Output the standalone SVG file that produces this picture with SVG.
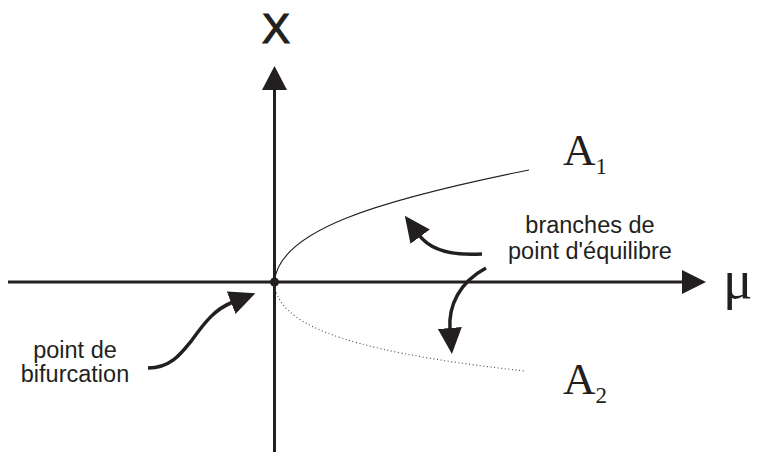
<svg xmlns="http://www.w3.org/2000/svg" width="758" height="453" viewBox="0 0 758 453">
  <style>
    .axis { stroke: #231f20; stroke-width: 3; fill: none; }
    .head { fill: #231f20; }
    .curve { stroke: #231f20; stroke-width: 1.1; fill: none; }
    .dotted { stroke: #555; stroke-width: 1.2; fill: none; stroke-dasharray: 1 2.6; }
    .pointer { stroke: #231f20; stroke-width: 3.5; fill: none; marker-end: url(#arrow); }
    .lbl { font-family: "Liberation Sans", Arial, sans-serif; font-size: 23.5px; fill: #231f20; text-anchor: middle; }
    .serif { font-family: "Liberation Serif", "Times New Roman", serif; fill: #231f20; }
  </style>
  <defs>
    <marker id="arrow" viewBox="0 0 26 24" markerWidth="26" markerHeight="24" refX="2" refY="12" orient="auto" markerUnits="userSpaceOnUse">
      <path d="M0,0 L26,12 L0,24 z" fill="#231f20"/>
    </marker>
  </defs>

  <g id="axes">
    <line class="axis" x1="274.5" y1="452" x2="274.5" y2="88"/>
    <polygon class="head" points="274.5,66 262,90 287,90"/>
    <line class="axis" x1="8" y1="282" x2="684" y2="282"/>
    <polygon class="head" points="706,282 682,270 682,294"/>
    <text id="x-label" x="276" y="43" font-family="Liberation Sans, Arial, sans-serif" font-size="42" text-anchor="middle" fill="#231f20" stroke="#231f20" stroke-width="1.2">X</text>
    <text id="mu-label" class="serif" x="723" y="298" font-size="55">μ</text>
  </g>

  <g id="branch-A1">
    <path class="curve" d="M274.5,282 C278,230 380,200 529,170"/>
    <text class="serif" x="563" y="165" font-size="45">A<tspan font-size="23" dy="9">1</tspan></text>
  </g>

  <g id="branch-A2">
    <path class="dotted" d="M274.5,282 C276,320 330,350 525,371"/>
    <text class="serif" x="563" y="394" font-size="45">A<tspan font-size="23" dy="9">2</tspan></text>
  </g>

  <g id="bifurcation-point">
    <circle cx="274.5" cy="282" r="4.5" fill="#231f20"/>
  </g>

  <g id="label-bifurcation">
    <text class="lbl" x="75" y="358">point de</text>
    <text class="lbl" x="75" y="382">bifurcation</text>
  </g>

  <g id="label-branches">
    <text class="lbl" x="590" y="233">branches de</text>
    <text class="lbl" x="590" y="259">point d'équilibre</text>
  </g>

  <g id="connectors">
    <path class="pointer" d="M148,368 C170,368 180,355 192,340 C205,322 215,309 233,302"/>
    <path class="pointer" d="M482,254 C450,256 430,250 419,235"/>
    <path class="pointer" d="M486,268 C460,282 448,305 450,330"/>
  </g>
</svg>
